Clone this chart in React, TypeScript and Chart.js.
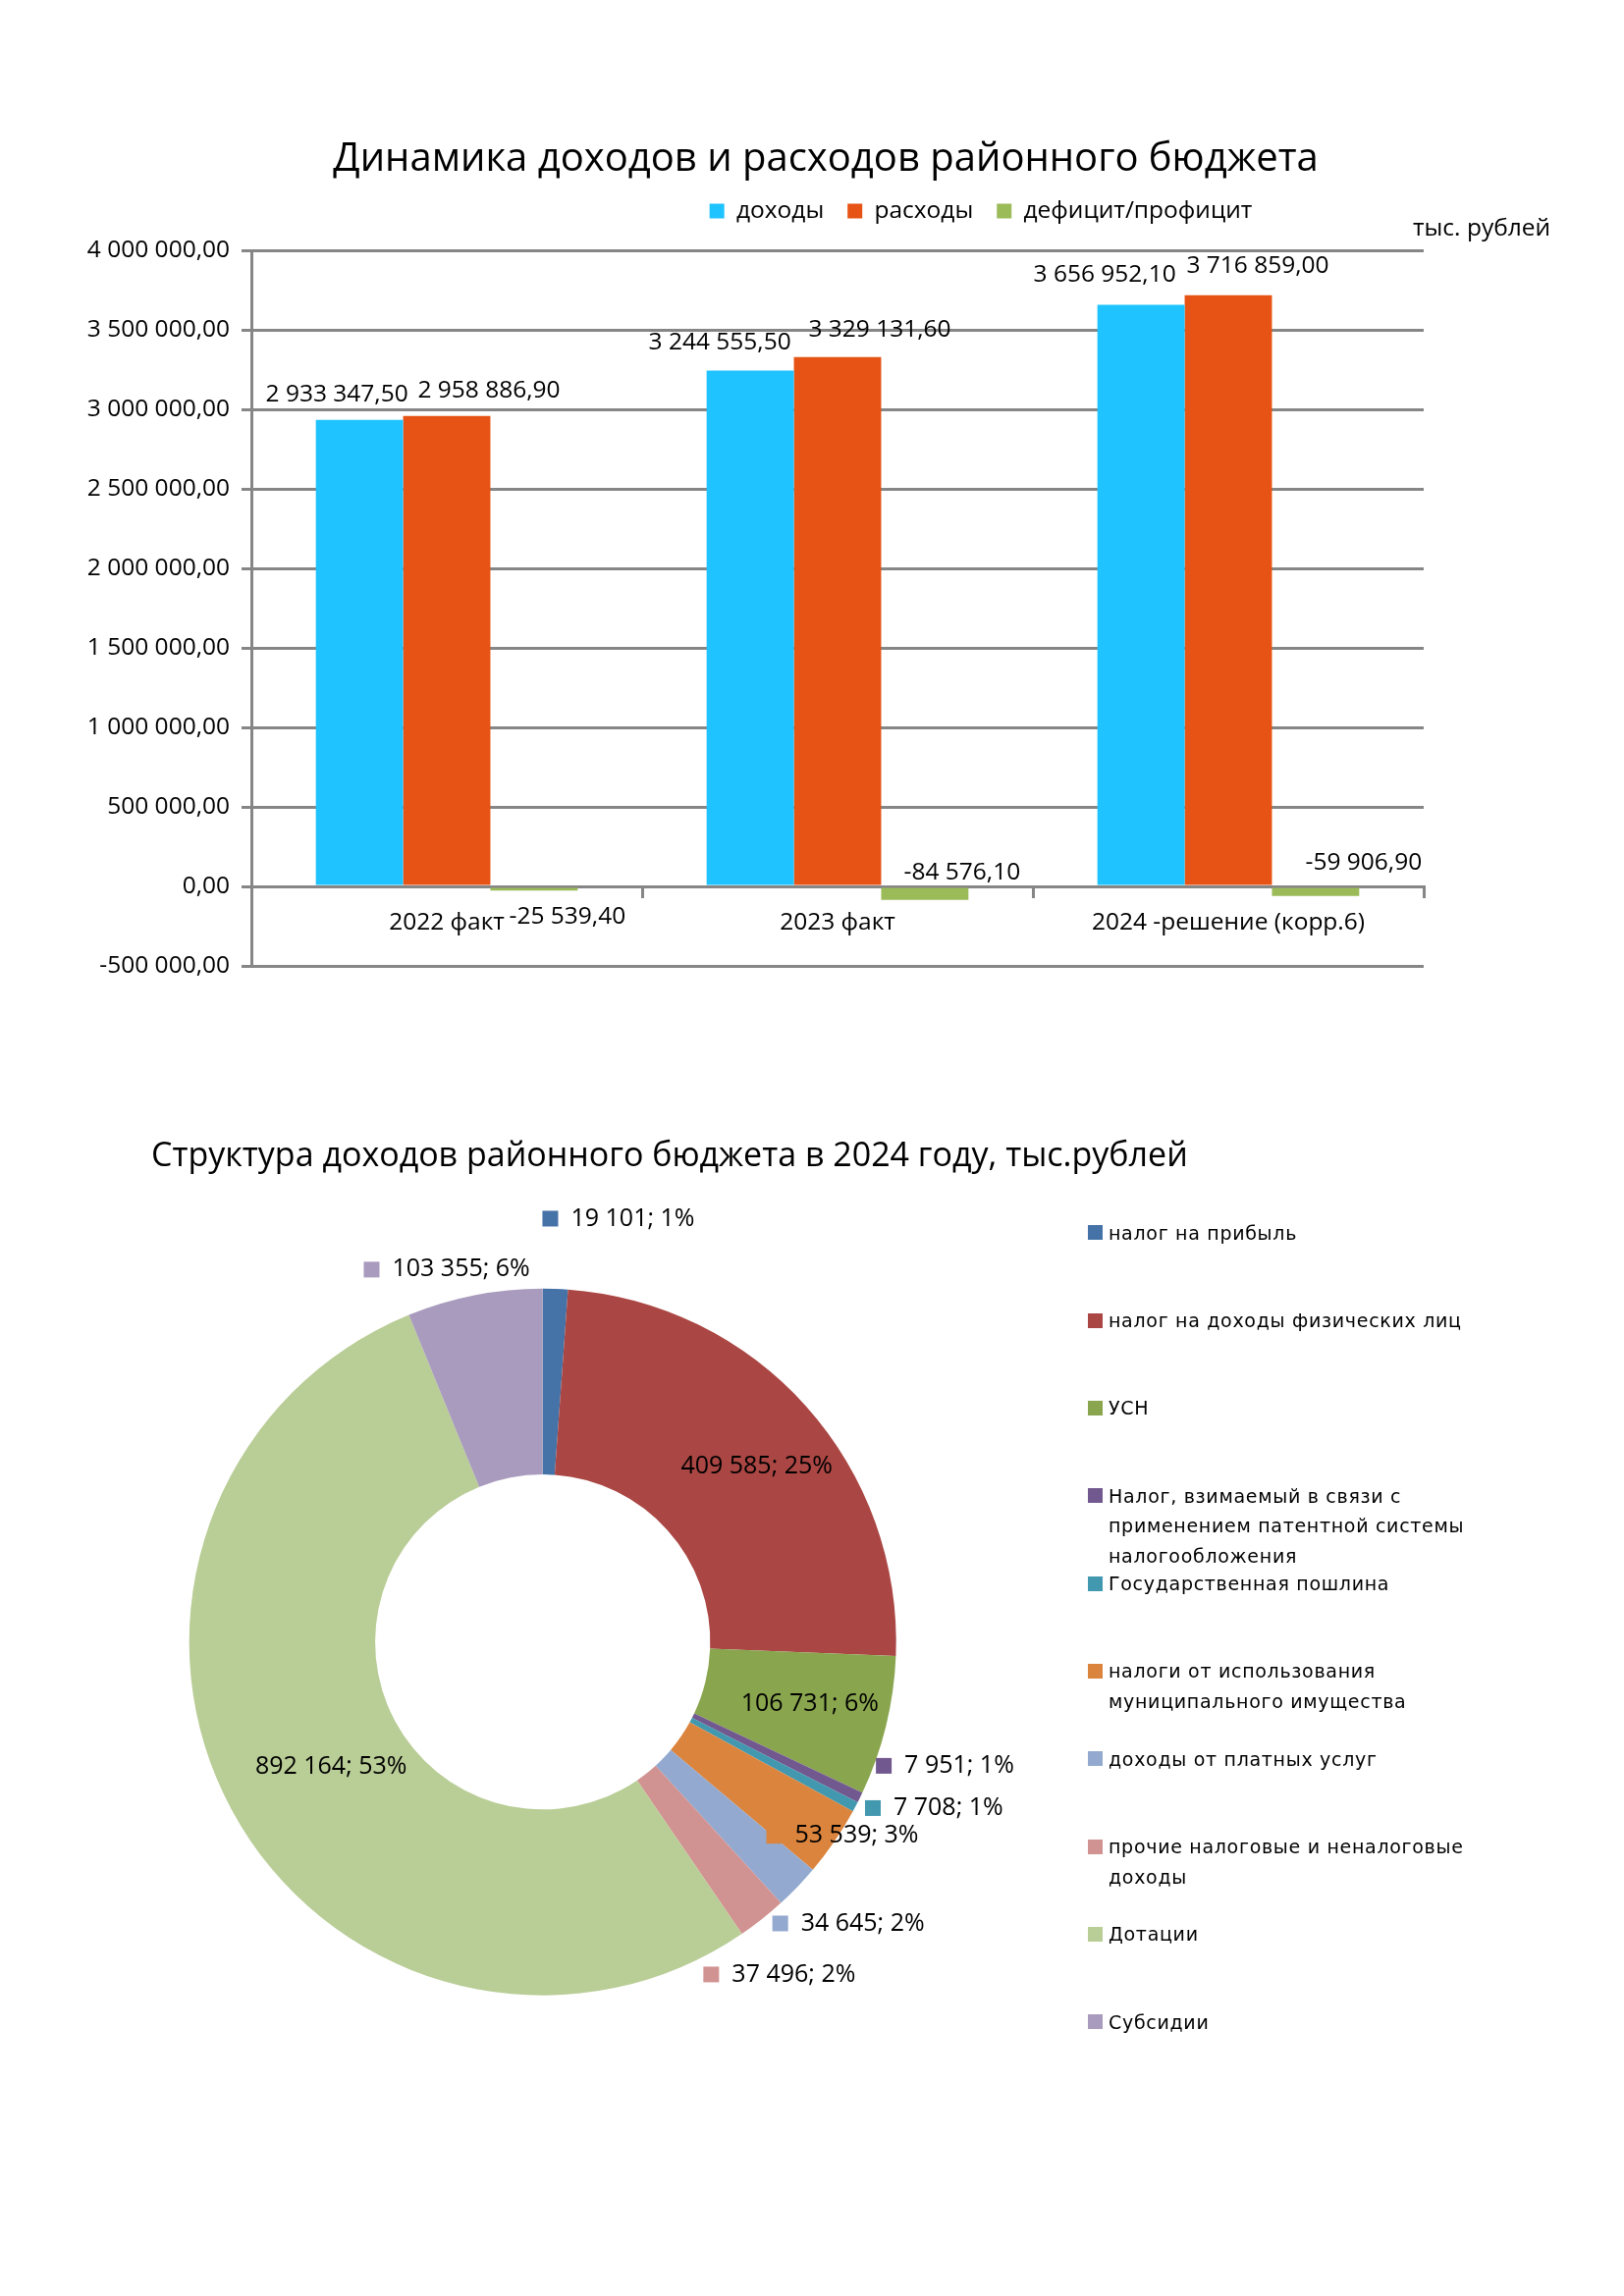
import React, { useEffect, useRef } from "react";
import { Chart, registerables } from "chart.js";

Chart.register(...registerables);

const FONT = "'Open Sans', 'Noto Sans', sans-serif";

// ---------- Bar chart data ----------
const barTitle = "Динамика доходов и расходов районного бюджета";
const barCategories = ["2022 факт", "2023 факт", "2024 -решение (корр.6)"];
const seriesNames = ["доходы", "расходы", "дефицит/профицит"];
const incomeValues = [2933347.5, 3244555.5, 3656952.1];
const expenseValues = [2958886.9, 3329131.6, 3716859.0];
const balanceValues = [-25539.4, -84576.1, -59906.9];
const yAxisMin = -500000;
const yAxisMax = 4000000;
const yAxisStep = 500000;
const unitLabel = "тыс. рублей";

// ---------- Doughnut data ----------
const pieTitle = "Структура доходов районного бюджета в 2024 году, тыс.рублей";
const pieCategories = [
  ["налог на прибыль"],
  ["налог на доходы физических лиц"],
  ["УСН"],
  ["Налог, взимаемый в связи с", "применением патентной системы", "налогообложения"],
  ["Государственная пошлина"],
  ["налоги от использования", "муниципального имущества"],
  ["доходы от платных услуг"],
  ["прочие налоговые и неналоговые", "доходы"],
  ["Дотации"],
  ["Субсидии"],
];
const pieValues = [19101, 409585, 106731, 7951, 7708, 53539, 34645, 37496, 892164, 103355];
const piePercents = [1, 25, 6, 1, 1, 3, 2, 2, 53, 6];

// ---------- styles ----------
const barColors = ["#1FC3FF", "#E65314", "#9BBB59"];
const pieColors = [
  "#4572A7", "#AA4643", "#89A54E", "#71588F", "#4198AF",
  "#DB843D", "#93A9CF", "#D19392", "#B9CD96", "#A99BBD",
];
const GRID = "#868686";
const TXT = 24.5;

function fmtNum(v: number, dec: number): string {
  const neg = v < 0;
  const s = Math.abs(v).toFixed(dec);
  const parts = s.split(".");
  const grouped = parts[0].replace(/\B(?=(\d{3})+(?!\d))/g, " ");
  return (neg ? "-" : "") + grouped + (parts[1] ? "," + parts[1] : "");
}

// label placement (relative to each bar end): [dx, dy]
const barLabelOffsets = [
  [[-23, -26], [-31, -28], [-37, -31]],
  [[43, -26], [43, -28], [30, -30]],
  [[34, 27], [38, -28], [49, -34]],
];

// doughnut label placement: [angle nudge in degrees, radius factor], inside flag
const pieLabelPlacement = [
  [8.1, 1.217], [2.5, 0.7825], [-0.7, 0.776], [-9.0, 1.191], [-4.8, 1.203],
  [-1.5, 1.01], [-1.25, 1.176], [2.9, 1.155], [-2.25, 0.695], [-3.3, 1.088],
];
const pieLabelInside = [false, true, true, false, false, false, false, false, true, false];

const blockShift = {
  id: "blockShift",
  afterLayout(chart: any, _args: any, opts: any) {
    const t = chart.titleBlock;
    if (t && typeof opts.titleCenterX === "number") {
      const dx = opts.titleCenterX - (t.left + t.right) / 2;
      t.left += dx;
      t.right += dx;
    }
    if (t && typeof opts.titleLeft === "number") {
      t.left = opts.titleLeft;
      t.right = chart.width;
      t.width = t.right - t.left;
    }
    const l = chart.legend;
    if (l && typeof opts.legendCenterX === "number") {
      const dx = opts.legendCenterX - (l.left + l.right) / 2;
      l.left += dx;
      l.right += dx;
    }
    if (l && typeof opts.legendDy === "number") {
      l.top += opts.legendDy;
      l.bottom += opts.legendDy;
    }
  },
};

const barLabels = {
  id: "barLabels",
  afterDatasetsDraw(chart: any, _args: any, opts: any) {
    const ctx = chart.ctx;
    ctx.save();
    ctx.font = `${opts.size}px ${FONT}`;
    ctx.fillStyle = "#000";
    ctx.textAlign = "center";
    ctx.textBaseline = "middle";
    chart.data.datasets.forEach((ds: any, di: number) => {
      const meta = chart.getDatasetMeta(di);
      meta.data.forEach((el: any, i: number) => {
        const off = opts.offsets[di][i];
        ctx.fillText(fmtNum(ds.data[i], 2), el.x + off[0], el.y + off[1]);
      });
    });
    ctx.restore();
  },
};

const unitText = {
  id: "unitText",
  afterDraw(chart: any, _args: any, opts: any) {
    const { ctx, chartArea } = chart;
    ctx.save();
    ctx.font = `${opts.size}px ${FONT}`;
    ctx.fillStyle = "#000";
    ctx.textAlign = "left";
    ctx.textBaseline = "middle";
    ctx.fillText(opts.text, chartArea.right + opts.dx, chartArea.top + opts.dy);
    ctx.restore();
  },
};

const pieLabels = {
  id: "pieLabels",
  afterDatasetsDraw(chart: any, _args: any, opts: any) {
    const ctx = chart.ctx;
    const meta = chart.getDatasetMeta(0);
    ctx.save();
    ctx.font = `${opts.size}px ${FONT}`;
    ctx.textBaseline = "middle";
    meta.data.forEach((arc: any, i: number) => {
      const p = arc.getProps(["x", "y", "startAngle", "endAngle", "outerRadius"], true);
      const place = pieLabelPlacement[i];
      const mid = (p.startAngle + p.endAngle) / 2 + (place[0] * Math.PI) / 180;
      const r = p.outerRadius * place[1];
      const cx = p.x + r * Math.cos(mid);
      const cy = p.y + r * Math.sin(mid);
      const text = fmtNum(pieValues[i], 0) + "; " + piePercents[i] + "%";
      const tw = ctx.measureText(text).width;
      ctx.fillStyle = "#000";
      if (pieLabelInside[i]) {
        ctx.textAlign = "center";
        ctx.fillText(text, cx, cy);
      } else {
        const sq = opts.square;
        const gap = opts.gap;
        const total = sq + gap + tw;
        const x0 = cx - total / 2;
        ctx.fillStyle = pieColors[i];
        ctx.fillRect(x0, cy - sq / 2, sq, sq);
        ctx.fillStyle = "#000";
        ctx.textAlign = "left";
        ctx.fillText(text, x0 + sq + gap, cy);
      }
    });
    ctx.restore();
  },
};

function BarChart() {
  const ref = useRef<HTMLCanvasElement>(null);
  useEffect(() => {
    const tickFont = { family: FONT, size: TXT };
    const chart = new Chart(ref.current as HTMLCanvasElement, {
      type: "bar",
      data: {
        labels: barCategories,
        datasets: [
          { label: seriesNames[0], data: incomeValues, backgroundColor: barColors[0], categoryPercentage: 0.67, barPercentage: 1 },
          { label: seriesNames[1], data: expenseValues, backgroundColor: barColors[1], categoryPercentage: 0.67, barPercentage: 1 },
          { label: seriesNames[2], data: balanceValues, backgroundColor: barColors[2], categoryPercentage: 0.67, barPercentage: 1 },
        ],
      },
      options: {
        responsive: false,
        maintainAspectRatio: false,
        animation: false,
        devicePixelRatio: 1,
        layout: { padding: { left: 0, right: 204, top: 0, bottom: 76 } },
        plugins: {
          title: {
            display: true,
            text: barTitle,
            color: "#000",
            font: { family: FONT, size: 40, weight: "normal" },
            padding: { top: 139, bottom: 9.5 },
          },
          legend: {
            display: true,
            position: "top",
            labels: {
              boxWidth: 15,
              boxHeight: 15,
              padding: 24,
              color: "#000",
              font: { family: FONT, size: TXT },
            },
          },
          tooltip: { enabled: false },
          blockShift: { titleCenterX: 841, legendCenterX: 999, legendDy: -17.75 },
          barLabels: { size: TXT, offsets: barLabelOffsets },
          unitText: { text: unitLabel, size: TXT, dx: -11, dy: -22 },
        } as any,
        scales: {
          x: {
            position: { y: 0 } as any,
            grid: {
              offset: true,
              drawOnChartArea: false,
              drawTicks: true,
              tickLength: 10,
              color: GRID,
              lineWidth: 3,
            },
            border: { display: true, color: GRID, width: 3 },
            ticks: { padding: 12, font: tickFont, color: "#000", maxRotation: 0, autoSkip: false },
          },
          y: {
            min: yAxisMin,
            max: yAxisMax,
            afterFit: (s: any) => {
              s.width = 256;
            },
            ticks: {
              stepSize: yAxisStep,
              callback: (v: any) => fmtNum(Number(v), 2),
              font: tickFont,
              color: "#000",
              padding: 12,
            },
            grid: { color: GRID, lineWidth: 3, tickLength: 10 },
            border: { display: true, color: GRID, width: 3 },
          },
        },
      },
      plugins: [blockShift, barLabels, unitText],
    });
    return () => chart.destroy();
  }, []);
  return (
    <canvas
      ref={ref}
      width={1654}
      height={1060}
      style={{ position: "absolute", left: 0, top: 0, width: 1654, height: 1060 }}
    />
  );
}

function DoughnutChart() {
  const ref = useRef<HTMLCanvasElement>(null);
  useEffect(() => {
    const chart = new Chart(ref.current as HTMLCanvasElement, {
      type: "doughnut",
      data: {
        labels: pieCategories.map((l) => l.join(" ")),
        datasets: [{ data: pieValues, backgroundColor: pieColors, borderWidth: 0 }],
      },
      options: {
        responsive: false,
        maintainAspectRatio: false,
        animation: false,
        devicePixelRatio: 1,
        radius: 360,
        cutout: "47.4%",
        layout: { padding: { left: 154, right: 348.6, top: 0, bottom: 73 } },
        plugins: {
          title: {
            display: true,
            text: pieTitle,
            align: "start",
            color: "#000",
            font: { family: FONT, size: 34, weight: "normal" },
            padding: { top: 57.6, bottom: 20 },
          },
          legend: { display: false },
          tooltip: { enabled: false },
          blockShift: { titleLeft: 154 },
          pieLabels: { size: 25, square: 16, gap: 13 },
        } as any,
      } as any,
      plugins: [blockShift, pieLabels],
    });
    return () => chart.destroy();
  }, []);
  return (
    <canvas
      ref={ref}
      width={1300}
      height={1100}
      style={{ position: "absolute", left: 0, top: 1100, width: 1300, height: 1100 }}
    />
  );
}

function PieLegend() {
  return (
    <div
      style={{
        position: "absolute",
        left: 1108,
        top: 1240.7,
        fontFamily: "'DejaVu Sans', sans-serif",
        fontSize: 19,
        letterSpacing: "0.7px",
        lineHeight: "30.6px",
        color: "#000",
      }}
    >
      {pieCategories.map((lines, i) => (
        <div key={i} style={{ position: "relative", height: 89.33, paddingLeft: 21 }}>
          <span
            style={{
              position: "absolute",
              left: 0,
              top: 7.8,
              width: 15,
              height: 15,
              background: pieColors[i],
            }}
          />
          {lines.map((ln, j) => (
            <div key={j} style={{ whiteSpace: "nowrap" }}>
              {ln}
            </div>
          ))}
        </div>
      ))}
    </div>
  );
}

export default function App() {
  return (
    <div
      style={{
        position: "absolute",
        left: 0,
        top: 0,
        width: 1654,
        height: 2339,
        background: "#fff",
        overflow: "hidden",
      }}
    >
      <BarChart />
      <DoughnutChart />
      <PieLegend />
    </div>
  );
}
